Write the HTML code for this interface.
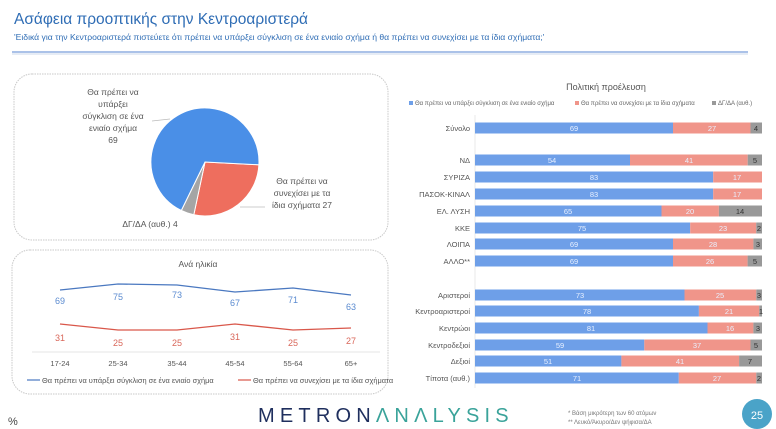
<!DOCTYPE html>
<html><head><meta charset="utf-8"><style>
html,body{margin:0;padding:0;background:#fff;}
svg{display:block;font-family:"Liberation Sans","DejaVu Sans",sans-serif;}
</style></head><body>
<svg width="776" height="429" viewBox="0 0 776 429" xmlns="http://www.w3.org/2000/svg">
<rect width="776" height="429" fill="#fff"/>
<text x="14" y="24" font-size="15.5" fill="#2f6db5">Ασάφεια προοπτικής στην Κεντροαριστερά</text>
<text x="14" y="40" font-size="8.6" fill="#2f6db5">'Ειδικά για την Κεντροαριστερά πιστεύετε ότι πρέπει να υπάρξει σύγκλιση σε ένα ενιαίο σχήμα ή θα πρέπει να συνεχίσει με τα ίδια σχήματα;'</text>
<line x1="12" y1="52" x2="748" y2="52" stroke="#8faee0" stroke-width="1.5"/>
<line x1="12" y1="54" x2="748" y2="54" stroke="#e6ecf5" stroke-width="2"/>

<!-- pie box -->
<rect x="14" y="74" width="374" height="166" rx="18" fill="none" stroke="#c8c8c8" stroke-dasharray="1.5 1"/>
<g transform="translate(205,162)">
<path d="M0,0 L53.9,2.8 A54,54 0 0 1 -11.2,52.8 Z" fill="#ee6e5e" stroke="#fff" stroke-width="1"/>
<path d="M0,0 L-11.2,52.8 A54,54 0 0 1 -23.7,48.5 Z" fill="#a5a5a5" stroke="#fff" stroke-width="1"/>
<path d="M0,0 L-23.7,48.5 A54,54 0 1 1 53.9,2.8 Z" fill="#4a8fe7" stroke="#fff" stroke-width="1"/>
</g>
<line x1="152" y1="121" x2="170" y2="119" stroke="#bbb" stroke-width="0.7"/>
<line x1="240" y1="207" x2="265" y2="207" stroke="#bbb" stroke-width="0.7"/>
<g font-size="8.5" fill="#555" text-anchor="middle">
<text x="113" y="95">Θα πρέπει να</text>
<text x="113" y="107">υπάρξει</text>
<text x="113" y="119">σύγκλιση σε ένα</text>
<text x="113" y="131">ενιαίο σχήμα</text>
<text x="113" y="143">69</text>
<text x="302" y="184">Θα πρέπει να</text>
<text x="302" y="196">συνεχίσει με τα</text>
<text x="302" y="208">ίδια σχήματα 27</text>
<text x="150" y="227">ΔΓ/ΔΑ (αυθ.) 4</text>
</g>

<!-- line box -->
<rect x="12" y="250" width="376" height="144" rx="18" fill="none" stroke="#c8c8c8" stroke-dasharray="1.5 1"/>
<text x="198" y="267" font-size="8.5" fill="#555" text-anchor="middle">Ανά ηλικία</text>
<polyline points="60,290 118,284 177,285 235,292 293,288 351,295" fill="none" stroke="#4a78c0" stroke-width="1.3"/>
<polyline points="60,324 118,330 177,330 235,324 293,330 351,328" fill="none" stroke="#d9574a" stroke-width="1.3"/>
<g font-size="9" fill="#5b8bd0" text-anchor="middle">
<text x="60" y="304">69</text><text x="118" y="300">75</text><text x="177" y="298">73</text><text x="235" y="306">67</text><text x="293" y="303">71</text><text x="351" y="310">63</text>
</g>
<g font-size="9" fill="#d9675a" text-anchor="middle">
<text x="60" y="341">31</text><text x="118" y="346">25</text><text x="177" y="346">25</text><text x="235" y="340">31</text><text x="293" y="346">25</text><text x="351" y="344">27</text>
</g>
<line x1="32" y1="352" x2="380" y2="352" stroke="#ddd" stroke-width="0.8"/>
<g font-size="7.5" fill="#555" text-anchor="middle">
<text x="60" y="366">17-24</text><text x="118" y="366">25-34</text><text x="177" y="366">35-44</text><text x="235" y="366">45-54</text><text x="293" y="366">55-64</text><text x="351" y="366">65+</text>
</g>
<line x1="27" y1="380" x2="40" y2="380" stroke="#4a78c0" stroke-width="1.2"/>
<text x="42" y="383" font-size="7.4" fill="#555">Θα πρέπει να υπάρξει σύγκλιση σε ένα ενιαίο σχήμα</text>
<line x1="238" y1="380" x2="251" y2="380" stroke="#d9574a" stroke-width="1.2"/>
<text x="253" y="383" font-size="7.4" fill="#555">Θα πρέπει να συνεχίσει με τα ίδια σχήματα</text>

<!-- bar chart -->
<text x="606" y="90" font-size="9" fill="#555" text-anchor="middle">Πολιτική προέλευση</text>
<g font-size="6" fill="#666">
<rect x="409" y="101" width="4" height="4" fill="#6e9fe8"/><text x="415" y="105">Θα πρέπει να υπάρξει σύγκλιση σε ένα ενιαίο σχήμα</text>
<rect x="575" y="101" width="4" height="4" fill="#f0958a"/><text x="581" y="105">Θα πρέπει να συνεχίσει με τα ίδια σχήματα</text>
<rect x="712" y="101" width="4" height="4" fill="#999"/><text x="718" y="105">ΔΓ/ΔΑ (αυθ.)</text>
</g>
<line x1="475" y1="115" x2="475" y2="388" stroke="#e4e4e4" stroke-width="0.8"/>
<g font-size="7.5" fill="#555" text-anchor="end">
<text x="470" y="131">Σύνολο</text>
<text x="470" y="163">ΝΔ</text>
<text x="470" y="180">ΣΥΡΙΖΑ</text>
<text x="470" y="197">ΠΑΣΟΚ-ΚΙΝΑΛ</text>
<text x="470" y="214">ΕΛ. ΛΥΣΗ</text>
<text x="470" y="231">ΚΚΕ</text>
<text x="470" y="247">ΛΟΙΠΑ</text>
<text x="470" y="264">ΑΛΛΟ**</text>
<text x="470" y="298">Αριστεροί</text>
<text x="470" y="314">Κεντροαριστεροί</text>
<text x="470" y="331">Κεντρώοι</text>
<text x="470" y="348">Κεντροδεξιοί</text>
<text x="470" y="364">Δεξιοί</text>
<text x="470" y="381">Τίποτα (αυθ.)</text>
</g>
<g>
<rect x="475" y="122.5" width="198" height="11" fill="#6e9fe8"/><rect x="673" y="122.5" width="77.5" height="11" fill="#f0958a"/><rect x="750.5" y="122.5" width="11.5" height="11" fill="#999"/>
<rect x="475" y="154.5" width="155" height="11" fill="#6e9fe8"/><rect x="630" y="154.5" width="117.7" height="11" fill="#f0958a"/><rect x="747.7" y="154.5" width="14.3" height="11" fill="#999"/>
<rect x="475" y="171.5" width="238.2" height="11" fill="#6e9fe8"/><rect x="713.2" y="171.5" width="48.8" height="11" fill="#f0958a"/>
<rect x="475" y="188.5" width="238.2" height="11" fill="#6e9fe8"/><rect x="713.2" y="188.5" width="48.8" height="11" fill="#f0958a"/>
<rect x="475" y="205.5" width="186.5" height="11" fill="#6e9fe8"/><rect x="661.5" y="205.5" width="57.4" height="11" fill="#f0958a"/><rect x="718.9" y="205.5" width="43.1" height="11" fill="#999"/>
<rect x="475" y="222.5" width="215.2" height="11" fill="#6e9fe8"/><rect x="690.2" y="222.5" width="66" height="11" fill="#f0958a"/><rect x="756.2" y="222.5" width="5.8" height="11" fill="#999"/>
<rect x="475" y="238.5" width="198" height="11" fill="#6e9fe8"/><rect x="673" y="238.5" width="80.4" height="11" fill="#f0958a"/><rect x="753.4" y="238.5" width="8.6" height="11" fill="#999"/>
<rect x="475" y="255.5" width="198" height="11" fill="#6e9fe8"/><rect x="673" y="255.5" width="74.6" height="11" fill="#f0958a"/><rect x="747.6" y="255.5" width="14.4" height="11" fill="#999"/>
<rect x="475" y="289.5" width="209.5" height="11" fill="#6e9fe8"/><rect x="684.5" y="289.5" width="71.8" height="11" fill="#f0958a"/><rect x="756.3" y="289.5" width="5.7" height="11" fill="#999"/>
<rect x="475" y="305.5" width="223.9" height="11" fill="#6e9fe8"/><rect x="698.9" y="305.5" width="60.3" height="11" fill="#f0958a"/><rect x="759.2" y="305.5" width="2.8" height="11" fill="#999"/>
<rect x="475" y="322.5" width="232.5" height="11" fill="#6e9fe8"/><rect x="707.5" y="322.5" width="45.9" height="11" fill="#f0958a"/><rect x="753.4" y="322.5" width="8.6" height="11" fill="#999"/>
<rect x="475" y="339.5" width="169.3" height="11" fill="#6e9fe8"/><rect x="644.3" y="339.5" width="106.2" height="11" fill="#f0958a"/><rect x="750.5" y="339.5" width="11.5" height="11" fill="#999"/>
<rect x="475" y="355.5" width="146.4" height="11" fill="#6e9fe8"/><rect x="621.4" y="355.5" width="117.7" height="11" fill="#f0958a"/><rect x="739.1" y="355.5" width="22.9" height="11" fill="#999"/>
<rect x="475" y="372.5" width="203.8" height="11" fill="#6e9fe8"/><rect x="678.8" y="372.5" width="77.5" height="11" fill="#f0958a"/><rect x="756.3" y="372.5" width="5.7" height="11" fill="#999"/>
</g>
<g font-size="7.5" text-anchor="middle" fill="#e8f0ff">
<text x="574" y="131">69</text><text x="712" y="131">27</text>
<text x="552" y="163">54</text><text x="689" y="163">41</text>
<text x="594" y="180">83</text><text x="737" y="180">17</text>
<text x="594" y="197">83</text><text x="737" y="197">17</text>
<text x="568" y="214">65</text><text x="690" y="214">20</text>
<text x="582" y="231">75</text><text x="723" y="231">23</text>
<text x="574" y="247">69</text><text x="713" y="247">28</text>
<text x="574" y="264">69</text><text x="710" y="264">26</text>
<text x="580" y="298">73</text><text x="720" y="298">25</text>
<text x="587" y="314">78</text><text x="729" y="314">21</text>
<text x="591" y="331">81</text><text x="730" y="331">16</text>
<text x="560" y="348">59</text><text x="697" y="348">37</text>
<text x="548" y="364">51</text><text x="680" y="364">41</text>
<text x="577" y="381">71</text><text x="717" y="381">27</text>
</g>
<g font-size="7.5" text-anchor="middle" fill="#333">
<text x="756" y="131">4</text><text x="755" y="163">5</text><text x="740" y="214">14</text><text x="759" y="231">2</text><text x="758" y="247">3</text><text x="755" y="264">5</text>
<text x="759" y="298">3</text><text x="761" y="314">1</text><text x="758" y="331">3</text><text x="756" y="348">5</text><text x="750" y="364">7</text><text x="759" y="381">2</text>
</g>

<!-- footer -->
<text x="8" y="425" font-size="11" fill="#444">%</text>
<text x="258" y="422" font-size="20" letter-spacing="5.2" fill="#1f2f5e">METRON<tspan fill="#3aa39a">ΛNΛLYSIS</tspan></text>
<text x="568" y="415" font-size="6" fill="#777">*  Βάση μικρότερη των 60 ατόμων</text>
<text x="568" y="424" font-size="6" fill="#777">** Λευκό/Άκυρο/Δεν ψήφισα/ΔΑ</text>
<circle cx="757" cy="414" r="15" fill="#4aa3c8"/>
<text x="757" y="419" font-size="11" fill="#fff" text-anchor="middle">25</text>
</svg>
</body></html>
